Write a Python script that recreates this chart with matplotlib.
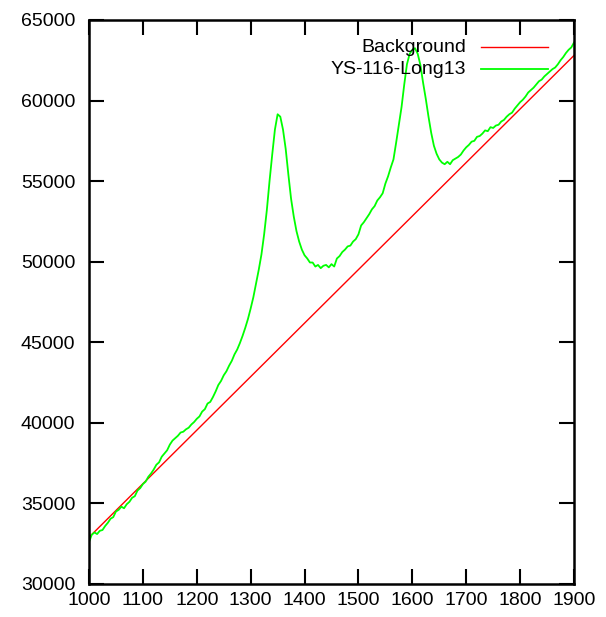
import numpy as np
import matplotlib
matplotlib.use("Agg")
import matplotlib.pyplot as plt

plt.rcParams['font.family'] = ['Liberation Sans', 'DejaVu Sans']

# background line (linear)
bg_x = [1000, 1900]
bg_y = [32900, 62800]

# measured spectrum, read every 5 units
wl = list(range(1000, 1905, 5))
counts = [
    32600, 33050, 33200, 33100, 33300, 33350, 33600, 33800, 34050, 34150,
    34500, 34600, 34800, 34700, 34950, 35100, 35350, 35450, 35800, 35950,
    36200, 36350, 36650, 36850, 37100, 37400, 37550, 37900, 38100, 38300,
    38650, 38900, 39050, 39200, 39400, 39450, 39600, 39700, 39900, 40050,
    40250, 40400, 40700, 40850, 41200, 41300, 41600, 41950, 42350, 42600,
    42950, 43200, 43550, 43850, 44250, 44550, 44950, 45400, 45900, 46450,
    47100, 47800, 48650, 49500, 50450, 51700, 53200, 55000, 56650, 58200,
    59150, 59000, 58200, 57000, 55400, 53900, 52800, 51900, 51250, 50750,
    50400, 50200, 49950, 49950, 49700, 49800, 49600, 49750, 49800, 49650,
    49850, 49700, 50200, 50350, 50600, 50750, 50950, 51000, 51250, 51400,
    51700, 52250, 52450, 52700, 52950, 53250, 53450, 53800, 54000, 54250,
    54850, 55300, 55850, 56350, 57400, 58500, 59600, 61000, 62250, 62900,
    63150, 63250, 62900, 62200, 61100, 60100, 59000, 58000, 57200, 56700,
    56350, 56150, 56050, 56200, 56050, 56300, 56400, 56500, 56650, 56900,
    57100, 57250, 57450, 57500, 57750, 57800, 57950, 58150, 58100, 58350,
    58300, 58450, 58500, 58700, 58800, 59000, 59150, 59250, 59500, 59700,
    59900, 60050, 60250, 60500, 60650, 60800, 61000, 61200, 61300, 61500,
    61650, 61800, 61950, 62050, 62250, 62500, 62700, 62950, 63150, 63300,
    63600,
]

labels = ["Background", "YS-116-Long13"]
colors = ["#ff0000", "#00ff00"]

fig = plt.figure(figsize=(6.06, 6.17), dpi=100)
ax = fig.add_axes([89 / 606, 33 / 617, 485 / 606, 564 / 617])

ax.plot(bg_x, bg_y, color=colors[0], lw=1.0)
ax.plot(wl, counts, color=colors[1], lw=1.3)

ax.set_xlim(1000, 1900)
ax.set_ylim(30000, 65000)
ax.set_xticks(range(1000, 2000, 100))
ax.set_yticks(range(30000, 70000, 5000))
ax.tick_params(direction='in', length=10.5, width=1.5, top=True, right=True,
               labelsize=14)
ax.tick_params(axis='y', pad=10)
ax.tick_params(axis='x', pad=6)
for s in ax.spines.values():
    s.set_linewidth(1.8)

# gnuplot-style key: right-aligned text followed by a line sample
for i, (lab, c) in enumerate(zip(labels, colors)):
    yk = 0.952 - i * 0.039
    ax.text(0.777, yk, lab, transform=ax.transAxes, ha='right', va='center',
            fontsize=14)
    ax.plot([0.808, 0.946], [yk, yk], transform=ax.transAxes, color=c,
            lw=1.0 if i == 0 else 1.3)

fig.savefig("out.png", dpi=100)
